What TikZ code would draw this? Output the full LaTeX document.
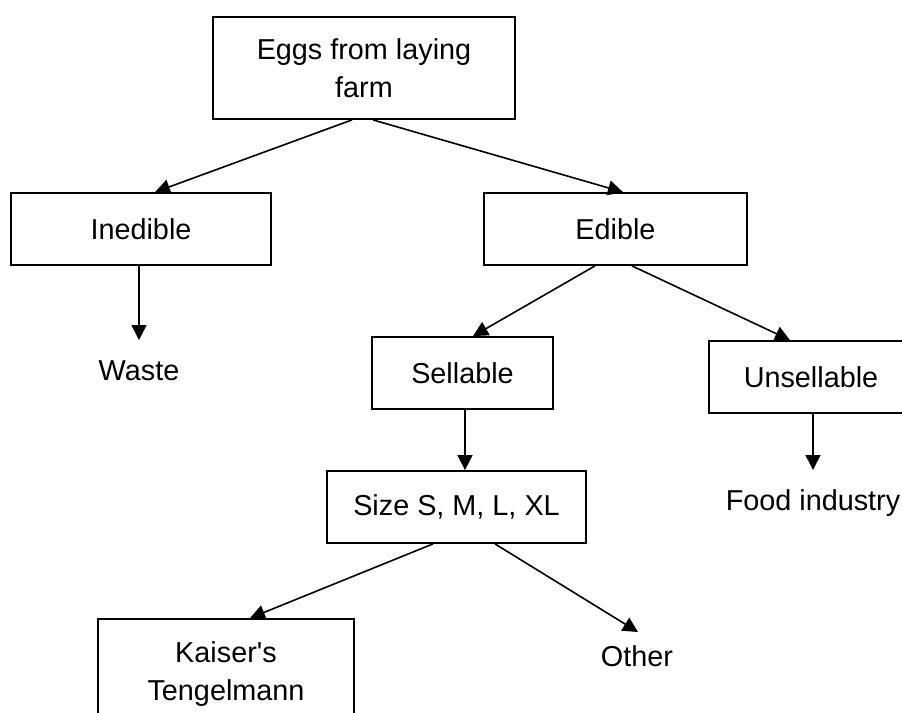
\documentclass[tikz,border=0pt]{standalone}
\usepackage{fontspec}
\setmainfont{Liberation Sans}
\usetikzlibrary{arrows.meta}

\begin{document}
\begin{tikzpicture}[x=0.5pt,y=-0.5pt,>={Triangle[length=7.5pt,width=7.5pt]},
  font=\fontsize{14.4}{19}\selectfont]
\tikzset{box/.style={draw,line width=0.9pt,align=center,inner sep=0pt},
  leaf/.style={inner sep=0pt,anchor=north},
  link/.style={->,line width=0.8pt}}

\useasboundingbox (0,0) rectangle (902,713);
\clip (0,0) rectangle (902,713);

\node[box,minimum width=151pt,minimum height=51pt] (eggs) at (364,68) {Eggs from laying\\farm};
\node[box,minimum width=130pt,minimum height=36pt] (inedible) at (141,229) {Inedible};
\node[box,minimum width=131.5pt,minimum height=36pt] (edible) at (615.5,229) {Edible};
\node[box,minimum width=90.5pt,minimum height=36pt] (sellable) at (462.5,373) {Sellable};
\node[box,minimum width=102pt,minimum height=36pt] (unsellable) at (811,377) {Unsellable};
\node[box,minimum width=129.5pt,minimum height=36pt] (size) at (456.5,507) {Size S, M, L, XL};
\node[box,minimum width=128pt,minimum height=55pt] (kaiser) at (226,674) {Kaiser\textquotesingle s\\Tengelmann};

\node[leaf] (waste) at (139,360) {Waste};
\node[leaf] (food) at (813,489) {Food industry};
\node[leaf] (other) at (637,645) {Other};

\draw[link] ([xshift=-6pt]eggs.south) -- ([xshift=7pt]inedible.north);
\draw[link] ([xshift=4.5pt]eggs.south) -- ([xshift=3.75pt]edible.north);
\draw[link] ([xshift=-1pt]inedible.south) -- ([yshift=10pt]waste.north);
\draw[link] ([xshift=-10.25pt]edible.south) -- ([xshift=5.25pt]sellable.north);
\draw[link] ([xshift=8.25pt]edible.south) -- ([xshift=-10.5pt]unsellable.north);
\draw[link] ([xshift=1.25pt]sellable.south) -- ([xshift=1.25pt]sellable.south |- size.north);
\draw[link] ([xshift=1pt]unsellable.south) -- ([yshift=9.5pt]food.north);
\draw[link] ([xshift=-11.75pt]size.south) -- ([xshift=12pt]kaiser.north);
\draw[link] ([xshift=19.25pt]size.south) -- ([xshift=0.5pt,yshift=6.5pt]other.north);

\end{tikzpicture}
\end{document}
